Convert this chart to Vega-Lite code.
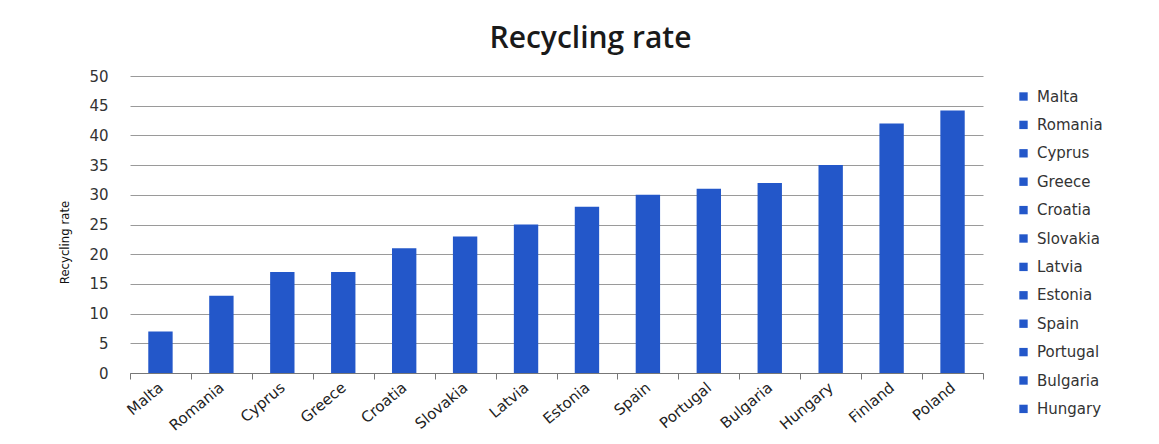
{
  "$schema": "https://vega.github.io/schema/vega-lite/v6.json",
  "autosize": {"type": "none"},
  "width": 853,
  "height": 297,
  "padding": {"left": 130, "top": 76, "right": 176, "bottom": 71},
  "background": "white",
  "title": {
    "text": "Recycling rate",
    "font": "Open Sans",
    "fontSize": 30,
    "fontWeight": 600,
    "color": "#1a1a1a",
    "anchor": "middle",
    "dx": 34,
    "offset": 15
  },
  "data": {
    "values": [
      {"country": "Malta", "rate": 7},
      {"country": "Romania", "rate": 13},
      {"country": "Cyprus", "rate": 17},
      {"country": "Greece", "rate": 17},
      {"country": "Croatia", "rate": 21},
      {"country": "Slovakia", "rate": 23},
      {"country": "Latvia", "rate": 25},
      {"country": "Estonia", "rate": 28},
      {"country": "Spain", "rate": 30},
      {"country": "Portugal", "rate": 31},
      {"country": "Bulgaria", "rate": 32},
      {"country": "Hungary", "rate": 35},
      {"country": "Finland", "rate": 42},
      {"country": "Poland", "rate": 44.2}
    ]
  },
  "mark": {"type": "bar", "color": "#2357c9", "width": {"band": 0.4}},
  "encoding": {
    "x": {
      "field": "country",
      "type": "nominal",
      "sort": null,
      "scale": {"paddingInner": 0, "paddingOuter": 0},
      "axis": {
        "title": null,
        "labelAngle": -40,
        "labelAlign": "right",
        "labelBaseline": "middle",
        "labelFont": "DejaVu Sans",
        "labelFontSize": 15,
        "labelColor": "#222222",
        "labelPadding": 6,
        "tickBand": "extent",
        "tickSize": 6,
        "tickColor": "#777777",
        "domainColor": "#777777",
        "grid": false
      }
    },
    "y": {
      "field": "rate",
      "type": "quantitative",
      "scale": {"domain": [0, 50]},
      "axis": {
        "title": "Recycling rate",
        "titleFont": "DejaVu Sans Condensed, Liberation Sans",
        "titleFontSize": 13,
        "titleFontWeight": "normal",
        "titleColor": "#111111",
        "titleX": -66,
        "titleY": 166,
        "titleAngle": 270,
        "titleAlign": "center",
        "titleBaseline": "middle",
        "values": [0, 5, 10, 15, 20, 25, 30, 35, 40, 45, 50],
        "labelFont": "DejaVu Sans",
        "labelFontSize": 15,
        "labelColor": "#333333",
        "labelPadding": 22,
        "domain": false,
        "ticks": false,
        "grid": true,
        "gridColor": "#9a9a9a",
        "gridWidth": 1
      }
    },
    "color": {
      "field": "country",
      "type": "nominal",
      "sort": null,
      "scale": {"range": ["#2357c9"]},
      "legend": {
        "title": null,
        "orient": "none",
        "legendX": 886,
        "legendY": 13,
        "values": ["Malta", "Romania", "Cyprus", "Greece", "Croatia", "Slovakia", "Latvia", "Estonia", "Spain", "Portugal", "Bulgaria", "Hungary"],
        "symbolType": "square",
        "symbolSize": 70,
        "symbolStrokeWidth": 0,
        "labelFont": "DejaVu Sans",
        "labelFontSize": 15,
        "labelColor": "#333333",
        "rowPadding": 12.4,
        "labelOffset": 6
      }
    }
  },
  "config": {"view": {"stroke": null}}
}
